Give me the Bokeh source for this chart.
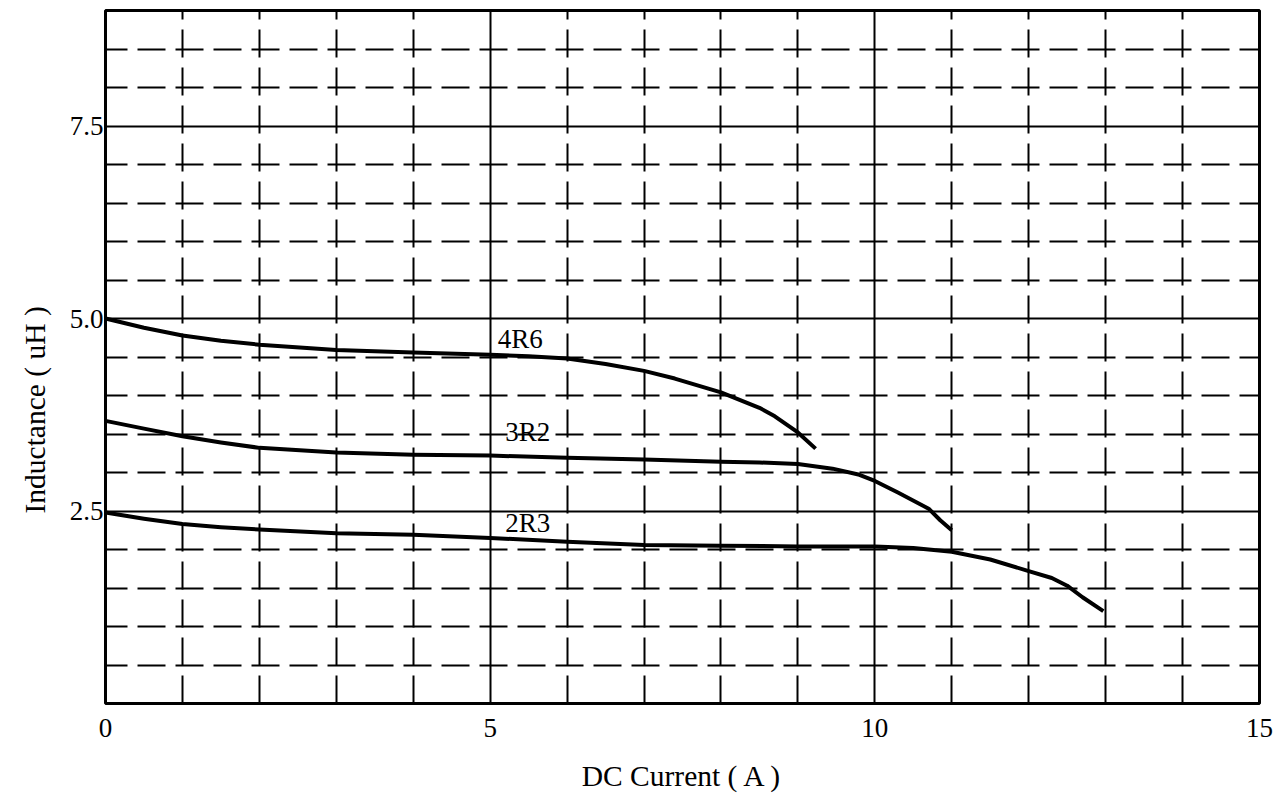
from bokeh.plotting import figure
from bokeh.models import Range1d, FixedTicker, Grid, Label, Title, PrintfTickFormatter
from bokeh.embed import file_html
from bokeh.resources import INLINE

# ---- data ----
x_4r6 = [0, 0.5, 1, 1.5, 2, 3, 4, 5, 5.5, 6, 6.5, 7, 7.4, 8, 8.5, 8.7, 9, 9.23]
y_4r6 = [5.0, 4.88, 4.78, 4.71, 4.66, 4.59, 4.56, 4.53, 4.51, 4.48, 4.41, 4.32, 4.22, 4.04, 3.84, 3.73, 3.52, 3.31]

x_3r2 = [0, 0.5, 1, 1.5, 2, 3, 4, 5, 6, 7, 8, 8.5, 9, 9.45, 9.8, 10, 10.3, 10.7, 10.85, 11.0]
y_3r2 = [3.67, 3.57, 3.47, 3.39, 3.32, 3.26, 3.23, 3.22, 3.19, 3.17, 3.14, 3.13, 3.11, 3.05, 2.97, 2.89, 2.74, 2.53, 2.38, 2.25]

x_2r3 = [0, 0.5, 1, 1.5, 2, 3, 4, 5, 6, 7, 8, 9, 10, 10.5, 11, 11.5, 12, 12.3, 12.5, 12.7, 12.97]
y_2r3 = [2.48, 2.40, 2.33, 2.29, 2.26, 2.21, 2.19, 2.15, 2.10, 2.06, 2.05, 2.04, 2.04, 2.02, 1.97, 1.87, 1.72, 1.63, 1.53, 1.38, 1.20]

series_names = ["4R6", "3R2", "2R3"]
x_ticks = [0, 5, 10, 15]
y_ticks = [2.5, 5.0, 7.5]
x_solid_grid = [5, 10]
x_dashed_grid = [1, 2, 3, 4, 6, 7, 8, 9, 11, 12, 13, 14]
y_solid_grid = [2.5, 5.0, 7.5]
y_dashed_grid = [0.5, 1, 1.5, 2, 3, 3.5, 4, 4.5, 5.5, 6, 6.5, 7, 8, 8.5]
x_title = "DC Current ( A )"
y_title = "Inductance ( uH )"

FONT = "Liberation Serif"

p = figure(width=1280, height=795,
           x_range=Range1d(0, 15), y_range=Range1d(0, 9),
           output_backend="svg", toolbar_location=None,
           min_border_left=105, min_border_right=21,
           min_border_top=10, min_border_bottom=92)

p.background_fill_color = "white"
p.border_fill_color = "white"
p.outline_line_color = "black"
p.outline_line_width = 3

# axes
for ax in (p.xaxis[0], p.yaxis[0]):
    ax.axis_line_color = None
    ax.major_tick_line_color = None
    ax.minor_tick_line_color = None
    ax.major_tick_out = 0
    ax.major_tick_in = 0
    ax.minor_tick_out = 0
    ax.minor_tick_in = 0
    ax.major_label_text_font = FONT
    ax.major_label_text_font_size = "27px"
    ax.major_label_text_color = "black"

p.xaxis.ticker = FixedTicker(ticks=x_ticks)
p.xaxis.formatter = PrintfTickFormatter(format="%d")
p.xaxis.major_label_standoff = 15
p.xaxis.axis_label = x_title
p.xaxis.axis_label_text_font = FONT
p.xaxis.axis_label_text_font_size = "29.5px"
p.xaxis.axis_label_text_font_style = "normal"
p.xaxis.axis_label_text_color = "black"
p.xaxis.axis_label_standoff = 20

p.yaxis.ticker = FixedTicker(ticks=y_ticks)
p.yaxis.formatter = PrintfTickFormatter(format="%.1f")
p.yaxis.major_label_standoff = 2

# y-axis title, placed along the left side
p.add_layout(Title(text=y_title, align="left", offset=190, standoff=31,
                   text_font=FONT, text_font_size="29.5px", text_font_style="normal",
                   text_color="black"), "left")

# grids
p.xgrid.ticker = FixedTicker(ticks=x_solid_grid)
p.ygrid.ticker = FixedTicker(ticks=y_solid_grid)
for g in (p.xgrid[0], p.ygrid[0]):
    g.grid_line_color = "black"
    g.grid_line_width = 2
    g.grid_line_alpha = 1.0

p.add_layout(Grid(dimension=0, ticker=FixedTicker(ticks=x_dashed_grid),
                  grid_line_color="black", grid_line_width=2,
                  grid_line_dash="28 10", grid_line_dash_offset=0))
p.add_layout(Grid(dimension=1, ticker=FixedTicker(ticks=y_dashed_grid),
                  grid_line_color="black", grid_line_width=2,
                  grid_line_dash="28 10", grid_line_dash_offset=6))

# curves
for xs, ys in ((x_4r6, y_4r6), (x_3r2, y_3r2), (x_2r3, y_2r3)):
    p.line(xs, ys, line_width=4, line_color="black", line_join="round", line_cap="butt")

# series labels
label_pos = [(5.39, 4.74), (5.49, 3.53), (5.49, 2.35)]
for name, (lx, ly) in zip(series_names, label_pos):
    p.add_layout(Label(x=lx, y=ly, text=name, text_align="center", text_baseline="middle",
                       text_font=FONT, text_font_size="27px", text_color="black"))

open("out.html", "w").write(file_html(p, INLINE))
